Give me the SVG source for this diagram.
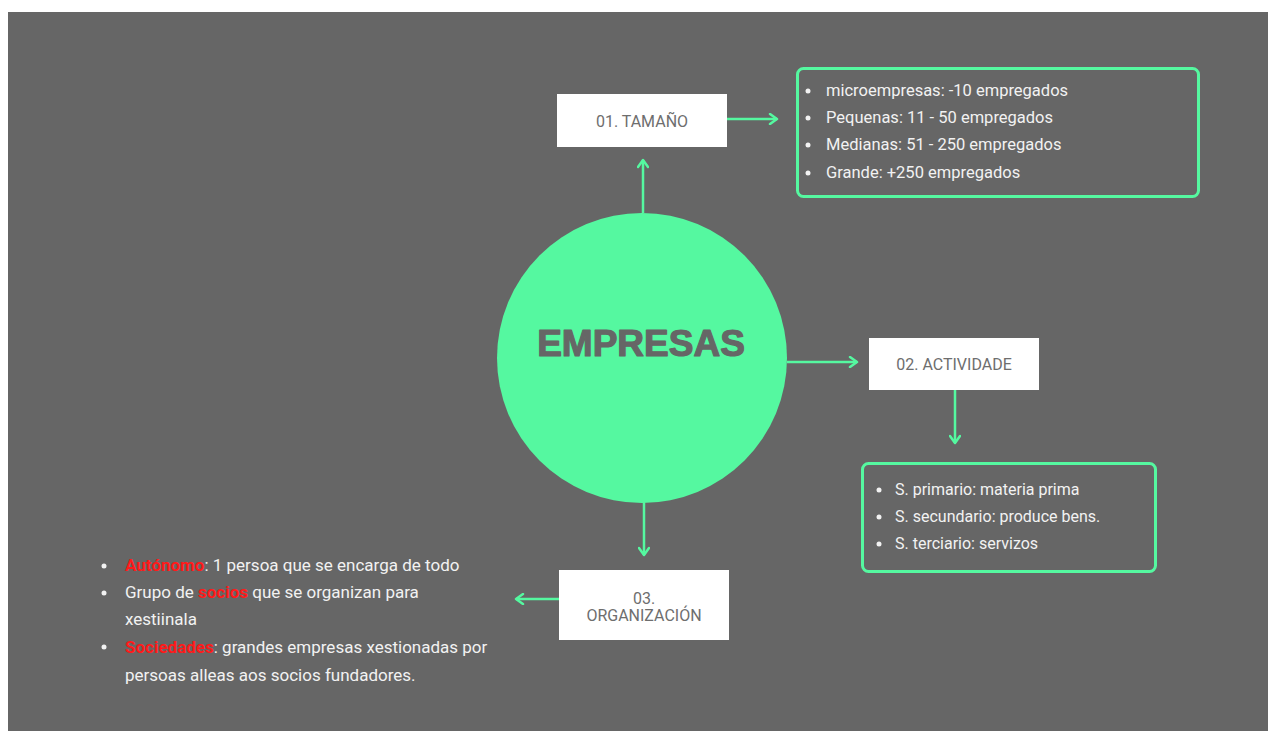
<svg xmlns="http://www.w3.org/2000/svg" width="1268" height="731" viewBox="0 0 1268 731">
<defs>
<marker id="chev" viewBox="0 0 12 12" refX="10" refY="6" markerWidth="12" markerHeight="12" markerUnits="userSpaceOnUse" orient="auto">
<polyline points="3,1 10,6 3,11" fill="none" stroke="#55f8a0" stroke-width="2.5" stroke-linecap="round" stroke-linejoin="round"/>
</marker>
</defs>
<style>
.conn{stroke:#55f8a0;stroke-width:2.5;fill:none;marker-end:url(#chev)}
.box{fill:#ffffff}
.lbl{font-family:Roboto,"Liberation Sans",sans-serif;font-size:16px;fill:#6e6e6e;text-anchor:middle}
.panel{fill:none;stroke:#55f8a0;stroke-width:3}
.li{font-family:Roboto,"Liberation Sans",sans-serif;font-size:16px;fill:#f2f2f2}
.li165{font-size:16.5px}
.li17{font-size:17px}
.red{fill:#ff1a1a;font-weight:bold}
.dot{fill:#f2f2f2}
</style>
<rect x="0" y="0" width="1268" height="731" fill="#ffffff"/>
<rect x="8" y="12" width="1260" height="719" fill="#666666"/>
<g id="connectors">
<line class="conn" x1="643" y1="213" x2="643" y2="160"/>
<line class="conn" x1="727" y1="119" x2="777" y2="119"/>
<line class="conn" x1="787" y1="362" x2="857" y2="362"/>
<line class="conn" x1="955" y1="390" x2="955" y2="443"/>
<line class="conn" x1="644" y1="502" x2="644" y2="555"/>
<line class="conn" x1="559" y1="599" x2="516" y2="599"/>
</g>
<g id="center">
<circle cx="642" cy="358" r="145" fill="#55f8a0"/>
<text x="641" y="356" font-family="'Liberation Sans',Arial,sans-serif" font-weight="bold" font-size="37" fill="#666666" stroke="#666666" stroke-width="1.2" stroke-linejoin="round" text-anchor="middle">EMPRESAS</text>
</g>
<g id="tamano">
<rect class="box" x="557" y="94" width="170" height="53"/>
<text class="lbl" x="642" y="127">01. TAMAÑO</text>
</g>
<g id="tamano-list">
<rect class="panel" x="797.5" y="68.5" width="401" height="128" rx="6"/>
<circle class="dot" cx="808" cy="91" r="2.5"/>
<circle class="dot" cx="808" cy="118" r="2.5"/>
<circle class="dot" cx="808" cy="145" r="2.5"/>
<circle class="dot" cx="808" cy="173" r="2.5"/>
<text class="li li165" x="826" y="96">microempresas: -10 empregados</text>
<text class="li li165" x="826" y="123">Pequenas: 11 - 50 empregados</text>
<text class="li li165" x="826" y="150">Medianas: 51 - 250 empregados</text>
<text class="li li165" x="826" y="178">Grande: +250 empregados</text>
</g>
<g id="actividade">
<rect class="box" x="869" y="338" width="170" height="52"/>
<text class="lbl" x="954" y="370">02. ACTIVIDADE</text>
</g>
<g id="actividade-list">
<rect class="panel" x="862.5" y="463.5" width="293" height="108" rx="6"/>
<circle class="dot" cx="879" cy="490" r="2.5"/>
<circle class="dot" cx="879" cy="517" r="2.5"/>
<circle class="dot" cx="879" cy="544" r="2.5"/>
<text class="li" x="895" y="495">S. primario: materia prima</text>
<text class="li" x="895" y="522">S. secundario: produce bens.</text>
<text class="li" x="895" y="549">S. terciario: servizos</text>
</g>
<g id="organizacion">
<rect class="box" x="559" y="570" width="170" height="70"/>
<text class="lbl" x="644" y="604">03.</text>
<text class="lbl" x="644" y="621">ORGANIZACIÓN</text>
</g>
<g id="organizacion-list">
<circle class="dot" cx="104" cy="566" r="2.5"/>
<circle class="dot" cx="104" cy="593" r="2.5"/>
<circle class="dot" cx="104" cy="647" r="2.5"/>
<text class="li li17" x="125" y="571"><tspan class="red">Autónomo</tspan>: 1 persoa que se encarga de todo</text>
<text class="li li17" x="125" y="598">Grupo de <tspan class="red">socios</tspan> que se organizan para</text>
<text class="li li17" x="125" y="625">xestiinala</text>
<text class="li li17" x="125" y="653"><tspan class="red">Sociedades</tspan>: grandes empresas xestionadas por</text>
<text class="li li17" x="125" y="681">persoas alleas aos socios fundadores.</text>
</g>
</svg>
